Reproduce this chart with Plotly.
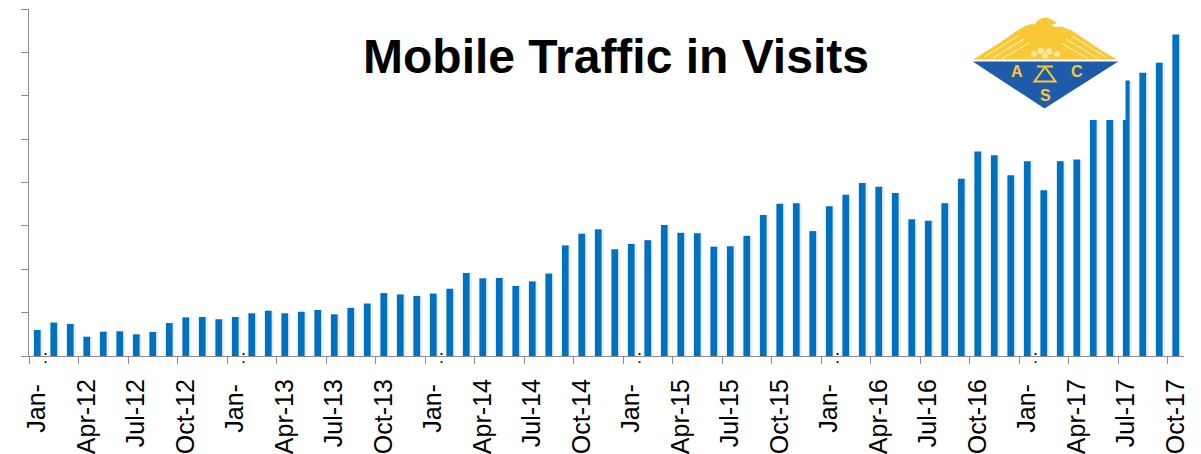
import plotly.graph_objects as go

# ---------------- data ----------------
months = [
    "Jan-12", "Feb-12", "Mar-12", "Apr-12", "May-12", "Jun-12", "Jul-12", "Aug-12", "Sep-12", "Oct-12", "Nov-12", "Dec-12",
    "Jan-13", "Feb-13", "Mar-13", "Apr-13", "May-13", "Jun-13", "Jul-13", "Aug-13", "Sep-13", "Oct-13", "Nov-13", "Dec-13",
    "Jan-14", "Feb-14", "Mar-14", "Apr-14", "May-14", "Jun-14", "Jul-14", "Aug-14", "Sep-14", "Oct-14", "Nov-14", "Dec-14",
    "Jan-15", "Feb-15", "Mar-15", "Apr-15", "May-15", "Jun-15", "Jul-15", "Aug-15", "Sep-15", "Oct-15", "Nov-15", "Dec-15",
    "Jan-16", "Feb-16", "Mar-16", "Apr-16", "May-16", "Jun-16", "Jul-16", "Aug-16", "Sep-16", "Oct-16", "Nov-16", "Dec-16",
    "Jan-17", "Feb-17", "Mar-17", "Apr-17", "May-17", "Jun-17", "Jul-17", "Aug-17", "Sep-17", "Oct-17",
]

# mobile visits (thousands)
visits = [
    6.0, 7.7, 7.4, 4.45, 5.6, 5.7, 5.0, 5.54, 7.6, 8.9, 9.0, 8.47,
    9.0, 9.85, 10.45, 9.85, 10.2, 10.6, 9.6, 11.1, 12.1, 14.5, 14.2, 13.85,
    14.4, 15.5, 19.15, 17.9, 18.0, 16.15, 17.2, 19.0, 25.5, 28.2, 29.2, 24.6,
    25.85, 26.7, 30.2, 28.4, 28.3, 25.2, 25.3, 27.7, 32.5, 35.1, 35.2, 28.8,
    34.5, 37.2, 39.9, 39.0, 37.6, 31.5, 31.2, 35.2, 40.85, 47.15, 46.3, 41.7,
    44.9, 38.2, 44.9, 45.3, 55.4, 57.7, 63.5, 65.3, 67.6, 74.1,
]

tick_months = [
    "Jan-12", "Apr-12", "Jul-12", "Oct-12", "Jan-13", "Apr-13", "Jul-13", "Oct-13",
    "Jan-14", "Apr-14", "Jul-14", "Oct-14", "Jan-15", "Apr-15", "Jul-15", "Oct-15",
    "Jan-16", "Apr-16", "Jul-16", "Oct-16", "Jan-17", "Apr-17", "Jul-17", "Oct-17",
]

y_ticks = [0, 10, 20, 30, 40, 50, 60, 70, 80]
title_text = "Mobile Traffic in Visits"

# ---------------- figure ----------------
W, H = 1201, 454
ML, MR, MT, MB = 29, 17, 9, 98
PW, PH = W - ML - MR, H - MT - MB

def px(x):
    return (x - ML) / PW

def py(y):
    return (H - MB - y) / PH

xs = list(range(len(months)))
tick_idx = [months.index(m) for m in tick_months]
tick_text = [("Jan-\u2009" if m.startswith("Jan") else m) for m in tick_months]

fig = go.Figure()
# soft shadow
fig.add_trace(go.Bar(
    x=xs, y=visits, width=0.5, offset=-0.16,
    marker=dict(color="rgba(0,0,0,0.07)", line=dict(width=0)),
    hoverinfo="skip", showlegend=False,
))
fig.add_trace(go.Bar(
    x=xs, y=visits, width=0.41, offset=-0.205,
    marker=dict(color="#0070C0", line=dict(width=0)),
    customdata=months, hovertemplate="%{customdata}: %{y}<extra></extra>",
    showlegend=False,
))

shapes = []
annotations = []

# white box behind the logo (covers bar tops)
shapes.append(dict(type="rect", xref="paper", yref="paper", layer="above",
                   x0=px(955), x1=px(1125.5), y0=py(120), y1=py(-5),
                   fillcolor="white", line=dict(width=0)))

YEL = "#F8C935"
BLU = "#1E5CA9"

def path(points, close=True):
    s = "M " + " L ".join(f"{px(a):.5f},{py(b):.5f}" for a, b in points)
    return s + (" Z" if close else "")

# eagle
eagle = [(973, 59.5), (990, 49), (1003, 40.5), (1015, 32), (1024, 26.5), (1031, 24),
         (1035, 24.5), (1037, 21), (1041, 18.5), (1046, 17.5), (1052, 19.5), (1057, 23.5),
         (1052, 24.5), (1054, 27), (1061, 26.5), (1072, 30.5), (1086, 40), (1100, 49.5),
         (1117, 59.5)]
shapes.append(dict(type="path", xref="paper", yref="paper", layer="above",
                   path=path(eagle), fillcolor=YEL, line=dict(width=0)))
# feather lines
for (a, b) in [((984, 57), (1018, 36)), ((993, 58), (1024, 39)), ((1002, 58.5), (1029, 43)),
               ((1106, 57), (1072, 36)), ((1097, 58), (1066, 39)), ((1088, 58.5), (1061, 43))]:
    shapes.append(dict(type="line", xref="paper", yref="paper", layer="above",
                       x0=px(a[0]), y0=py(a[1]), x1=px(b[0]), y1=py(b[1]),
                       line=dict(color="rgba(255,255,255,0.8)", width=1)))
# cloud under the eagle
for (cx, cy, r) in [(1034, 54, 3.5), (1041, 51, 4), (1049, 51.5, 4), (1057, 54, 3.5), (1045, 56, 3.5)]:
    shapes.append(dict(type="circle", xref="paper", yref="paper", layer="above",
                       x0=px(cx - r), x1=px(cx + r), y0=py(cy + r), y1=py(cy - r),
                       fillcolor="rgba(255,255,255,0.55)", line=dict(color=YEL, width=1)))
# blue triangle
shapes.append(dict(type="path", xref="paper", yref="paper", layer="above",
                   path=path([(972.7, 61.5), (1118.3, 61.5), (1044.5, 108.5)]),
                   fillcolor=BLU, line=dict(width=0)))
# scale symbol
shapes.append(dict(type="line", xref="paper", yref="paper", layer="above",
                   x0=px(1037), y0=py(66.5), x1=px(1053), y1=py(66.5),
                   line=dict(color=YEL, width=2)))
shapes.append(dict(type="path", xref="paper", yref="paper", layer="above",
                   path=path([(1045, 67), (1034.5, 81.5), (1055.5, 81.5)]),
                   fillcolor="rgba(0,0,0,0)", line=dict(color=YEL, width=2)))
for (t, x, y) in [("A", 1016.7, 72), ("C", 1076.7, 72), ("S", 1045, 95)]:
    annotations.append(dict(text=f"<b>{t}</b>", xref="paper", yref="paper",
                            x=px(x), y=py(y), xanchor="center", yanchor="middle",
                            showarrow=False, font=dict(family="Liberation Sans, Arial", size=16, color=YEL)))

# truncated-label ellipsis dots for the January labels
for i, m in zip(tick_idx, tick_months):
    if m.startswith("Jan"):
        annotations.append(dict(text=":", x=i, y=0, xref="x", yref="y",
                                xanchor="center", yanchor="middle", xshift=8, yshift=-1,
                                showarrow=False,
                                font=dict(family="Liberation Sans, Arial", size=18, color="black")))

# title
annotations.append(dict(text=f"<b>{title_text}</b>", xref="paper", yref="paper",
                        x=px(615.5), y=py(56), xanchor="center", yanchor="middle",
                        showarrow=False,
                        font=dict(family="Liberation Sans, Arial", size=48, color="black")))

fig.update_layout(
    template="none",
    width=W, height=H,
    margin=dict(l=ML, r=MR, t=MT, b=MB, pad=0),
    paper_bgcolor="white", plot_bgcolor="white",
    barmode="overlay",
    shapes=shapes, annotations=annotations,
    showlegend=False,
    xaxis=dict(
        range=[-0.5, len(months) - 0.5], automargin=False,
        tickmode="array", tickvals=tick_idx, ticktext=tick_text,
        tickangle=-90, ticks="", showgrid=False, zeroline=False,
        showline=True, linecolor="#8C8C8C", linewidth=1.2,
        tickfont=dict(family="Liberation Sans, Arial", size=25, color="black"),
        ticklabelstandoff=12,
        minor=dict(tickmode="linear", tick0=-0.5, dtick=3, ticks="outside",
                   ticklen=7, tickcolor="#8C8C8C", tickwidth=1.2, showgrid=False),
    ),
    yaxis=dict(
        range=[0, 80], automargin=False,
        tickmode="array", tickvals=y_ticks, showticklabels=False,
        ticks="outside", ticklen=7, tickcolor="#8C8C8C", tickwidth=1.2,
        showgrid=False, zeroline=False,
        showline=True, linecolor="#8C8C8C", linewidth=1.2,
    ),
)

fig.write_html("out.html", config={"displayModeBar": False},
               post_script="document.body.style.margin='0';document.body.style.overflow='hidden';")
